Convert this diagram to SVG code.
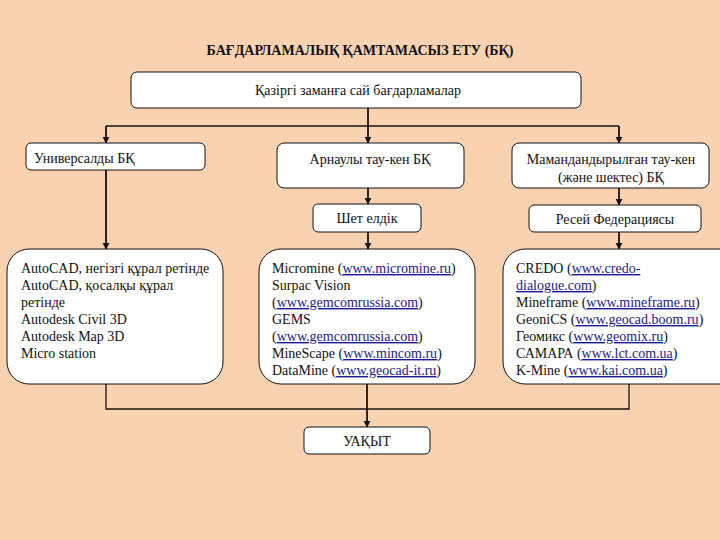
<svg xmlns="http://www.w3.org/2000/svg" width="720" height="540" viewBox="0 0 720 540">
<style>
text{font-family:"Liberation Serif","DejaVu Serif",serif;font-size:14px;fill:#111}
.t{font-weight:bold;font-size:14px}
.c{text-anchor:middle}
.box{fill:#fff;stroke:#111;stroke-width:1}
.ln{fill:none;stroke:#1a1010;stroke-width:1.3}
.ar{fill:none;stroke:#1a1010;stroke-width:1.8;marker-end:url(#ah)}
.u{fill:#1a1a8c;text-decoration:underline}
</style>
<defs>
<marker id="ah" viewBox="0 0 10 10" refX="9" refY="5" markerWidth="4" markerHeight="4" orient="auto" markerUnits="strokeWidth">
<path d="M0,0 L10,5 L0,10 z" fill="#1a1010"/>
</marker>
</defs>
<rect width="720" height="540" fill="#F9D3B1"/>
<text class="t c" x="360" y="55">БАҒДАРЛАМАЛЫҚ ҚАМТАМАСЫЗ ЕТУ (БҚ)</text>
<g id="connectors">
<line class="ar" x1="368" y1="108" x2="368" y2="143"/>
<polyline class="ln" points="106,126 619,126"/>
<line class="ar" x1="106" y1="126" x2="106" y2="143"/>
<line class="ar" x1="619" y1="126" x2="619" y2="143"/>
<line class="ar" x1="106" y1="170" x2="106" y2="249"/>
<line class="ar" x1="368" y1="188" x2="368" y2="204"/>
<line class="ar" x1="368" y1="232" x2="368" y2="249"/>
<line class="ar" x1="619" y1="188" x2="619" y2="205"/>
<line class="ar" x1="619" y1="232" x2="619" y2="249"/>
<polyline class="ln" points="106,384 106,409 629,409 629,384"/>
<line class="ar" x1="367" y1="384" x2="367" y2="427"/>
</g>
<g id="top">
<rect class="box" x="131" y="72" width="450" height="36" rx="6"/>
<text class="c" x="358" y="95">Қазіргі заманға сай бағдарламалар</text>
</g>
<g id="universal">
<rect class="box" x="26" y="143" width="179" height="27" rx="5"/>
<text x="34" y="163">Универсалды БҚ</text>
</g>
<g id="arnauly">
<rect class="box" x="277" y="143" width="187" height="45" rx="7"/>
<text class="c" x="370" y="164">Арнаулы тау-кен БҚ</text>
</g>
<g id="mamandandyrylgan">
<rect class="box" x="512" y="143" width="197" height="45" rx="7"/>
<text class="c" x="611" y="164">Мамандандырылған тау-кен</text>
<text class="c" x="611" y="182">(және шектес) БҚ</text>
</g>
<g id="shet">
<rect class="box" x="313" y="204" width="108" height="28" rx="5"/>
<text class="c" x="367" y="223">Шет елдік</text>
</g>
<g id="resei">
<rect class="box" x="529" y="205" width="172" height="27" rx="5"/>
<text class="c" x="615" y="224">Ресей Федерациясы</text>
</g>
<g id="left-list">
<rect class="box" x="7" y="249" width="216" height="135" rx="22"/>
<text x="21" y="273">AutoCAD, негізгі құрал ретінде</text>
<text x="21" y="290">AutoCAD, қосалқы құрал</text>
<text x="21" y="307">ретінде</text>
<text x="21" y="324">Autodesk Civil 3D</text>
<text x="21" y="341">Autodesk Map 3D</text>
<text x="21" y="358">Micro station</text>
</g>
<g id="mid-list">
<rect class="box" x="259" y="249" width="216" height="135" rx="22"/>
<text x="272" y="273">Micromine (<tspan class="u">www.micromine.ru</tspan>)</text>
<text x="272" y="290">Surpac Vision</text>
<text x="272" y="307">(<tspan class="u">www.gemcomrussia.com</tspan>)</text>
<text x="272" y="324">GEMS</text>
<text x="272" y="341">(<tspan class="u">www.gemcomrussia.com</tspan>)</text>
<text x="272" y="358">MineScape (<tspan class="u">www.mincom.ru</tspan>)</text>
<text x="272" y="375">DataMine (<tspan class="u">www.geocad-it.ru</tspan>)</text>
</g>
<g id="right-list">
<rect class="box" x="503" y="249" width="240" height="135" rx="22"/>
<text x="516" y="273">CREDO (<tspan class="u">www.credo-</tspan></text>
<text x="516" y="290"><tspan class="u">dialogue.com</tspan>)</text>
<text x="516" y="307">Mineframe (<tspan class="u">www.mineframe.ru</tspan>)</text>
<text x="516" y="324">GeoniCS (<tspan class="u">www.geocad.boom.ru</tspan>)</text>
<text x="516" y="341">Геомикс (<tspan class="u">www.geomix.ru</tspan>)</text>
<text x="516" y="358">САМАРА (<tspan class="u">www.lct.com.ua</tspan>)</text>
<text x="516" y="375">K-Mine (<tspan class="u">www.kai.com.ua</tspan>)</text>
</g>
<g id="uakyt">
<rect class="box" x="304" y="427" width="126" height="27" rx="5"/>
<text class="c" x="367" y="446">УАҚЫТ</text>
</g>
</svg>
